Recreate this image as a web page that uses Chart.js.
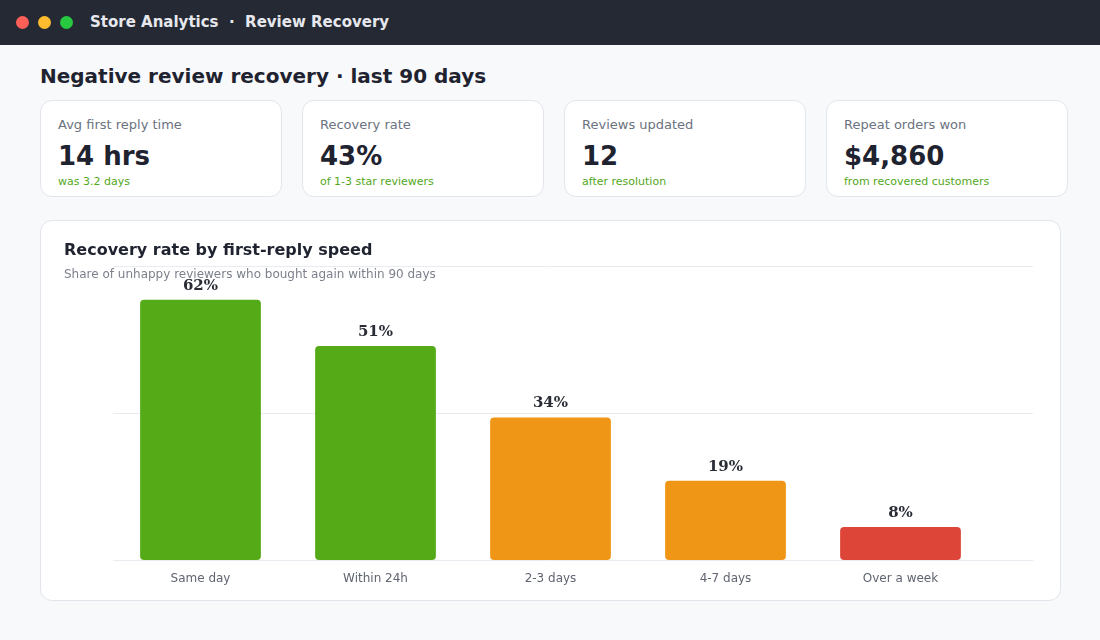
<!DOCTYPE html>
<html>
<head>
<meta charset="utf-8">
<script src="https://cdn.jsdelivr.net/npm/chart.js@4/dist/chart.umd.min.js"></script>
<style>
  * { box-sizing: border-box; margin: 0; padding: 0; }
  body { width: 1100px; height: 640px; background: #f8f9fb; font-family: "DejaVu Sans", sans-serif; position: relative; overflow: hidden; }
  .topbar { position: absolute; left: 0; top: 0; width: 1100px; height: 45px; background: #252933; }
  .dot { position: absolute; top: 16px; width: 13px; height: 13px; border-radius: 50%; }
  .topbar .title { position: absolute; left: 90px; top: 13px; color: #e6e8ee; font-weight: bold; font-size: 15px; }
  h1 { position: absolute; left: 40px; top: 64px; font-size: 20px; color: #1f2330; font-weight: bold; }
  .kpi { position: absolute; top: 100px; width: 242px; height: 97px; background: #fff; border: 1px solid #e2e5ec; border-radius: 12px; }
  .kpi .lbl { position: absolute; left: 17px; top: 16px; font-size: 13px; color: #6b7280; }
  .kpi .val { position: absolute; left: 17px; top: 40px; font-size: 26px; font-weight: bold; color: #1f2330; }
  .kpi .sub { position: absolute; left: 17px; top: 74px; font-size: 11px; color: #52a81a; }
  .card { position: absolute; left: 40px; top: 220px; width: 1021px; height: 381px; background: #fff; border: 1px solid #e2e5ec; border-radius: 12px; }
  .card canvas { position: absolute; left: 0; top: 0; }
  .card .ct { position: absolute; left: 23px; top: 19px; font-size: 16px; font-weight: bold; color: #1f2330; z-index: 2; }
  .card .cs { position: absolute; left: 23px; top: 46px; font-size: 12px; color: #7b808c; z-index: 2; }
</style>
</head>
<body>
<div class="topbar">
  <div class="dot" style="left:16px;background:#ff5f57"></div>
  <div class="dot" style="left:38px;background:#febc2e"></div>
  <div class="dot" style="left:60px;background:#28c840"></div>
  <div class="title">Store Analytics &nbsp;·&nbsp; Review Recovery</div>
</div>
<h1>Negative review recovery · last 90 days</h1>

<div class="kpi" style="left:40px"><div class="lbl">Avg first reply time</div><div class="val">14 hrs</div><div class="sub">was 3.2 days</div></div>
<div class="kpi" style="left:302px"><div class="lbl">Recovery rate</div><div class="val">43%</div><div class="sub">of 1-3 star reviewers</div></div>
<div class="kpi" style="left:564px"><div class="lbl">Reviews updated</div><div class="val">12</div><div class="sub">after resolution</div></div>
<div class="kpi" style="left:826px"><div class="lbl">Repeat orders won</div><div class="val">$4,860</div><div class="sub">from recovered customers</div></div>

<div class="card">
  <div class="ct">Recovery rate by first-reply speed</div>
  <div class="cs">Share of unhappy reviewers who bought again within 90 days</div>
  <canvas id="chart" width="1019" height="379" style="width:1019px;height:379px"></canvas>
</div>

<script>
const speeds = ["Same day", "Within 24h", "2-3 days", "4-7 days", "Over a week"];
const recoveryRate = [62, 51, 34, 19, 8];
const barColors = ["#55aa17", "#55aa17", "#f09617", "#f09617", "#dc4538"];

const valueLabels = {
  id: "valueLabels",
  afterDatasetsDraw(chart) {
    const ctx = chart.ctx;
    const meta = chart.getDatasetMeta(0);
    ctx.save();
    ctx.font = "bold 15px 'DejaVu Serif', serif";
    ctx.fillStyle = "#2a2d36";
    ctx.textAlign = "center";
    ctx.textBaseline = "middle";
    meta.data.forEach((bar, i) => {
      ctx.fillText(recoveryRate[i] + "%", bar.x, bar.y - 14);
    });
    ctx.restore();
  }
};

new Chart(document.getElementById("chart").getContext("2d"), {
  type: "bar",
  data: {
    labels: speeds,
    datasets: [{
      data: recoveryRate,
      backgroundColor: barColors,
      borderRadius: 4,
      borderSkipped: false,
      categoryPercentage: 1,
      barPercentage: 0.69
    }]
  },
  options: {
    responsive: false,
    animation: false,
    devicePixelRatio: 1,
    layout: { padding: { left: 72, right: 27, top: 45, bottom: 3 } },
    plugins: { legend: { display: false }, tooltip: { enabled: false } },
    scales: {
      x: {
        grid: { display: false, drawTicks: false },
        border: { display: false },
        ticks: { color: "#5f6470", font: { family: "DejaVu Sans", size: 12 }, padding: 11 }
      },
      y: {
        position: "right",
        min: 0, max: 70,
        ticks: { display: false, stepSize: 35 },
        grid: { color: "#e9ebf0", tickLength: 45 },
        border: { display: false }
      }
    }
  },
  plugins: [valueLabels]
});
</script>
</body>
</html>
